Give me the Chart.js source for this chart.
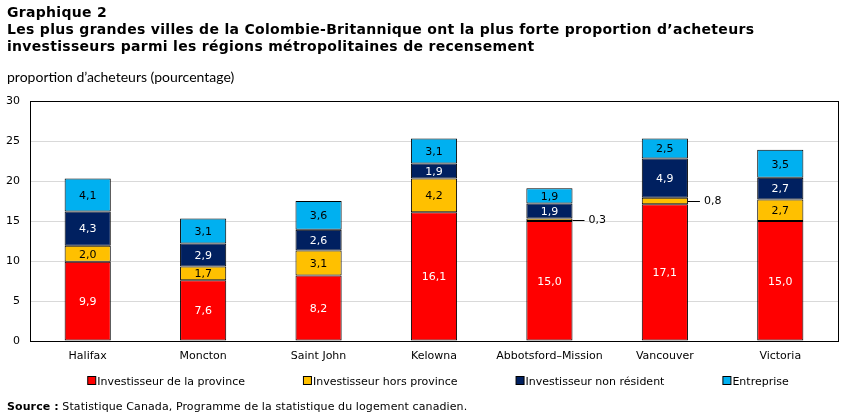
<!DOCTYPE html>
<html>
<head>
<meta charset="utf-8">
<script src="https://cdn.jsdelivr.net/npm/chart.js@4"></script>
<style>
  body { margin: 0; background: #fff; width: 850px; height: 419px; overflow: hidden; position: relative; }
  #wrap { position: absolute; left: 0; top: 0; width: 850px; height: 419px; }
  .txt { position: absolute; color: #000; white-space: nowrap; }
  #title { left: 7px; top: 4px; font: bold 14px "DejaVu Sans", Verdana, sans-serif; line-height: 17px; letter-spacing: 0.3px; }
  #ytitle { left: 7px; top: 68px; font: 14px Lato, Calibri, sans-serif; }
  #source { left: 7px; top: 400px; font: 11px "DejaVu Sans", Verdana, sans-serif; letter-spacing: 0.1px; }
</style>
</head>
<body>
<div id="wrap"><canvas id="chart" width="850" height="419"></canvas></div>
<div class="txt" id="title">Graphique 2<br>Les plus grandes villes de la Colombie-Britannique ont la plus forte proportion d’acheteurs<br>investisseurs parmi les régions métropolitaines de recensement</div>
<div class="txt" id="ytitle">proportion d’acheteurs (pourcentage)</div>
<div class="txt" id="source"><b>Source :</b> Statistique Canada, Programme de la statistique du logement canadien.</div>
<script>
const cities = ['Halifax', 'Moncton', 'Saint John', 'Kelowna', 'Abbotsford–Mission', 'Vancouver', 'Victoria'];
const seriesNames = ['Investisseur de la province', 'Investisseur hors province', 'Investisseur non résident', 'Entreprise'];
const inProvince = [9.9, 7.6, 8.2, 16.1, 15.0, 17.1, 15.0];
const outProvince = [2.0, 1.7, 3.1, 4.2, 0.3, 0.8, 2.7];
const nonResident = [4.3, 2.9, 2.6, 1.9, 1.9, 4.9, 2.7];
const business = [4.1, 3.1, 3.6, 3.1, 1.9, 2.5, 3.5];
const yTicks = [0, 5, 10, 15, 20, 25, 30];

const colors = ['#FF0000', '#FFC000', '#002060', '#00B0F0'];
const labelColors = ['#fff', '#000', '#fff', '#000'];
const FONT = '"DejaVu Sans", Verdana, sans-serif';

function fmt(v) {
    return v.toFixed(1).replace('.', ',');
}

// value labels inside the bars, small ones pulled out with a leader line
const barLabels = {
    id: 'barLabels',
    afterDatasetsDraw(chart) {
        const ctx = chart.ctx;
        ctx.save();
        ctx.font = '11px ' + FONT;
        ctx.textBaseline = 'middle';
        chart.data.datasets.forEach((ds, i) => {
            const meta = chart.getDatasetMeta(i);
            meta.data.forEach((bar, j) => {
                const v = ds.data[j];
                const p = bar.getProps(['x', 'y', 'base', 'width'], true);
                const cy = (p.y + p.base) / 2;
                if (v < 1) {
                    const x0 = p.x + p.width / 2;
                    ctx.strokeStyle = '#000';
                    ctx.lineWidth = 1;
                    ctx.beginPath();
                    ctx.moveTo(x0, Math.round(cy) + 0.5);
                    ctx.lineTo(x0 + 12, Math.round(cy) + 0.5);
                    ctx.stroke();
                    ctx.fillStyle = '#000';
                    ctx.textAlign = 'left';
                    ctx.fillText(fmt(v), x0 + 16, cy);
                } else {
                    ctx.fillStyle = labelColors[i];
                    ctx.textAlign = 'center';
                    ctx.fillText(fmt(v), p.x, cy + 1);
                }
            });
        });
        ctx.restore();
    }
};

// black frame round the plot area
const frame = {
    id: 'frame',
    afterDatasetsDraw(chart) {
        const a = chart.chartArea;
        const ctx = chart.ctx;
        ctx.save();
        ctx.strokeStyle = '#000';
        ctx.lineWidth = 1;
        ctx.strokeRect(Math.round(a.left) + 0.5, Math.round(a.top) + 0.5,
            Math.round(a.right - a.left), Math.round(a.bottom - a.top));
        ctx.restore();
    }
};

// legend row under the axis
const legendRow = {
    id: 'legendRow',
    afterDraw(chart) {
        const ctx = chart.ctx;
        ctx.save();
        ctx.font = '11px ' + FONT;
        ctx.textBaseline = 'middle';
        ctx.textAlign = 'left';
        const gap = 58, box = 8, y = 381;
        const items = chart.data.datasets.map(ds => ({
            label: ds.label, color: ds.backgroundColor,
            w: box + 2 + ctx.measureText(ds.label).width
        }));
        const total = items.reduce((s, it) => s + it.w, 0) + gap * (items.length - 1);
        let x = 438 - total / 2;
        items.forEach(it => {
            ctx.fillStyle = it.color;
            ctx.fillRect(x + 0.5, y - 4.5, box, box);
            ctx.strokeStyle = '#000';
            ctx.strokeRect(x + 0.5, y - 4.5, box, box);
            ctx.fillStyle = '#000';
            ctx.fillText(it.label, x + box + 2, y + 1);
            x += it.w + gap;
        });
        ctx.restore();
    }
};

const seriesData = [inProvince, outProvince, nonResident, business];

new Chart(document.getElementById('chart'), {
    type: 'bar',
    data: {
        labels: cities,
        datasets: seriesData.map((d, i) => ({
            label: seriesNames[i],
            data: d,
            backgroundColor: colors[i],
            borderColor: '#000',
            borderWidth: 1,
            borderSkipped: false,
            barPercentage: 0.4,
            categoryPercentage: 1
        }))
    },
    options: {
        responsive: false,
        animation: false,
        layout: { padding: { top: 101, right: 12, bottom: 54, left: 0 } },
        plugins: {
            legend: { display: false },
            tooltip: { enabled: false }
        },
        scales: {
            x: {
                stacked: true,
                grid: { display: false },
                border: { display: false },
                ticks: { color: '#000', font: { family: FONT, size: 11 }, padding: 1, maxRotation: 0 },
                afterFit(s) { s.height = 24; }
            },
            y: {
                stacked: true,
                min: 0,
                max: 30,
                afterBuildTicks(s) { s.ticks = yTicks.map(v => ({ value: v })); },
                grid: { color: '#D9D9D9', drawTicks: false },
                border: { display: false },
                ticks: { color: '#000', font: { family: FONT, size: 11 }, padding: 10 },
                afterFit(s) { s.width = 30; }
            }
        }
    },
    plugins: [frame, barLabels, legendRow]
});
</script>
</body>
</html>
